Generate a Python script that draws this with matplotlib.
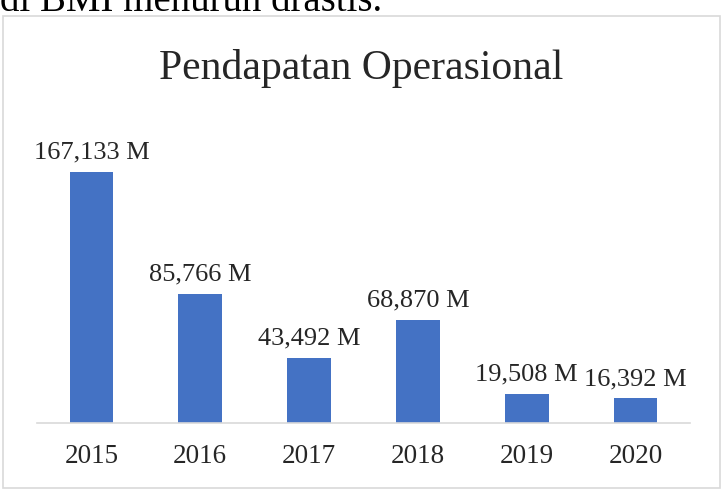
import matplotlib
matplotlib.use("Agg")
import matplotlib.pyplot as plt
from matplotlib.patches import Rectangle

years = ["2015", "2016", "2017", "2018", "2019", "2020"]
values = [167133, 85766, 43492, 68870, 19508, 16392]
labels = ["167,133 M", "85,766 M", "43,492 M", "68,870 M", "19,508 M", "16,392 M"]

plt.rcParams["font.family"] = ["Liberation Serif", "DejaVu Serif"]

W, H = 728, 493
fig = plt.figure(figsize=(W / 100, H / 100), dpi=100)

# bingkai grafik
fig.patches.append(Rectangle((3 / W, 1 - 488 / H), 717 / W, 472 / H,
                             transform=fig.transFigure, fill=False,
                             edgecolor="#d9d9d9", linewidth=1.2))

# sisa teks paragraf di atas (terpotong)
fig.text(0 / W, 1 - 11 / H, "di BMI menurun drastis.", fontsize=28,
         ha="left", va="baseline", color="black")

ax = fig.add_axes([37 / W, 1 - 423 / H, 653 / W, 293 / H])
x = range(len(years))
ax.bar(x, values, width=0.4, color="#4472C4")
ax.set_xlim(-0.5, 5.5)
ax.set_ylim(0, 167133 * 293 / 251)

for i, (v, lab) in enumerate(zip(values, labels)):
    ax.annotate(lab, (i, v), xytext=(0, 6), textcoords="offset points",
                ha="center", va="bottom", fontsize=19, color="#262626")

ax.set_xticks(list(x))
ax.set_xticklabels(years, fontsize=19.5, color="#262626")
ax.tick_params(axis="x", length=0, pad=15)
ax.set_yticks([])
for s in ["top", "left", "right"]:
    ax.spines[s].set_visible(False)
ax.spines["bottom"].set_color("#d9d9d9")
ax.spines["bottom"].set_linewidth(1.2)

fig.text(361 / W, 1 - 68 / H, "Pendapatan Operasional", fontsize=30,
         ha="center", va="center", color="#262626")

fig.savefig("out.png", dpi=100)
